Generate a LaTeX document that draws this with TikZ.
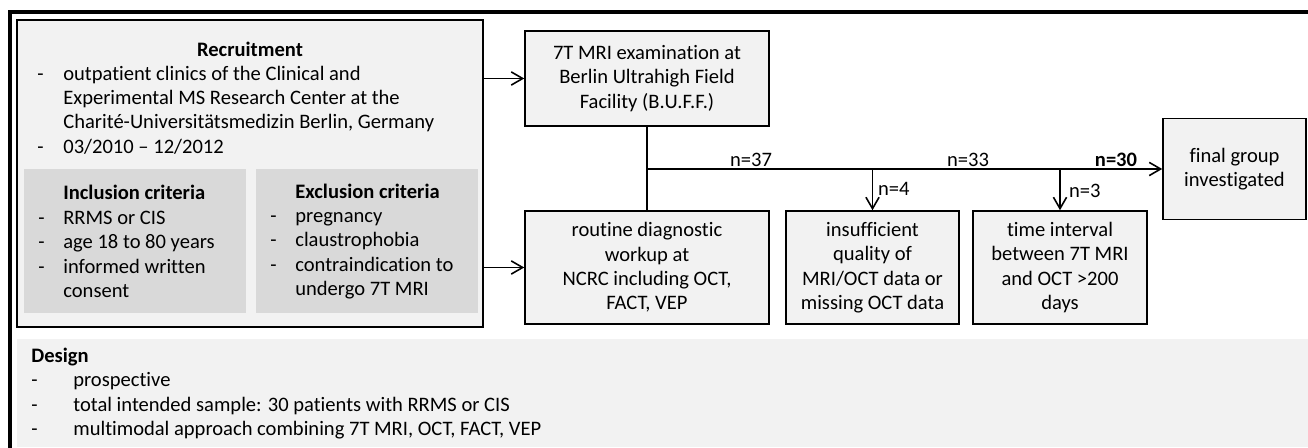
\documentclass[tikz,border=0pt]{standalone}
\usepackage{fontspec}
\setmainfont{Carlito}[Ligatures={TeX,NoCommon}]
\usetikzlibrary{arrows.meta}

\definecolor{boxgray}{HTML}{F2F2F2}
\definecolor{critgray}{HTML}{D9D9D9}
\newcommand{\dashitem}[2][0.5cm]{\makebox[#1][l]{-}#2}

\begin{document}
\begin{tikzpicture}[x=0.02cm,y=-0.02cm,
  font=\fontsize{11.7}{13.9}\selectfont,
  flowbox/.style={draw,line width=0.9pt,fill=boxgray,align=center,inner sep=0pt},
  critbox/.style={fill=critgray,inner sep=0pt},
  txt/.style={align=left,inner sep=0pt,anchor=west},
  lbl/.style={inner sep=1pt},
  arr/.style={-{Straight Barb[length=6.5pt,width=7.5pt]},line width=0.9pt}]
\useasboundingbox (0,0) rectangle (1308,448);
\clip (0,0) rectangle (1308,448);
\draw[line width=1.8pt] (10,12) rectangle (1340,480);

\node[flowbox,minimum width=9.32cm,minimum height=6.14cm] (recruit) at (250,173.5) {};
\node[critbox,minimum width=4.44cm,minimum height=2.88cm] (incl) at (135,241) {};
\node[critbox,minimum width=4.44cm,minimum height=2.88cm] (excl) at (367,241) {};
\node[fill=boxgray,inner sep=0pt,minimum width=26.06cm,minimum height=2.16cm] (design) at (668.5,393) {};

\node (recruittitle) at (250,49) {\textbf{Recruitment}};
\node[txt] (recruitlist) at (37,110) {\dashitem[0.52cm]{outpatient clinics of the Clinical and}\\
  \hspace*{0.52cm}Experimental MS Research Center at the\\
  \hspace*{0.52cm}Charité-Universitätsmedizin Berlin, Germany\\
  \dashitem[0.52cm]{03/2010 – 12/2012}};
\node[txt] (incltext) at (38,241.5) {\hspace*{0.5cm}\textbf{Inclusion criteria}\\
  \dashitem{RRMS or CIS}\\
  \dashitem{age 18 to 80 years}\\
  \dashitem{informed written}\\
  \hspace*{0.5cm}consent};
\node[txt] (excltext) at (270,241.5) {\hspace*{0.5cm}\textbf{Exclusion criteria}\\
  \dashitem{pregnancy}\\
  \dashitem{claustrophobia}\\
  \dashitem{contraindication to}\\
  \hspace*{0.5cm}undergo 7T MRI};
\node[txt] (designtext) at (31,393.5) {\textbf{Design}\\
  \dashitem[0.84cm]{prospective}\\
  \dashitem[0.84cm]{total intended sample: 30 patients with RRMS or CIS}\\
  \dashitem[0.84cm]{multimodal approach combining 7T MRI, OCT, FACT, VEP}};

\node[flowbox,minimum width=4.88cm,minimum height=1.9cm] (mri) at (647,78.5)
  {7T MRI examination at\\Berlin Ultrahigh Field\\Facility (B.U.F.F.)};
\node[flowbox,minimum width=4.88cm,minimum height=2.26cm] (routine) at (647,267.5)
  {routine diagnostic\\workup at\\NCRC including OCT,\\FACT, VEP};
\node[flowbox,minimum width=3.46cm,minimum height=2.26cm] (quality) at (872.5,267.5)
  {insufficient\\quality of\\MRI/OCT data or\\missing OCT data};
\node[flowbox,minimum width=3.48cm,minimum height=2.26cm] (interval) at (1060,267.5)
  {time interval\\between 7T MRI\\and OCT >200\\days};
\node[flowbox,minimum width=2.86cm,minimum height=2.02cm] (final) at (1234.5,169)
  {final group\\investigated};

\coordinate (split) at (mri.south |- final.west);
\coordinate (drop1) at (quality.north |- split);
\coordinate (drop2) at (interval.north |- split);
\draw[line width=0.9pt] (mri) -- (routine);
\draw[arr] (split) -- (final);
\draw[arr] (drop1) -- (quality);
\draw[arr] (drop2) -- (interval);
\draw[arr] (recruit.east |- mri) -- (mri);
\draw[arr] (recruit.east |- routine) -- (routine);

\node[lbl,anchor=south] (n37) at (751,169) {n=37};
\node[lbl,anchor=south] (n33) at (968,169) {n=33};
\node[lbl,anchor=south] (n30) at (1116,169) {\textbf{n=30}};
\node[lbl,anchor=west] (n4) at (876,189) {n=4};
\node[lbl,anchor=west] (n3) at (1067,191) {n=3};
\end{tikzpicture}
\end{document}
